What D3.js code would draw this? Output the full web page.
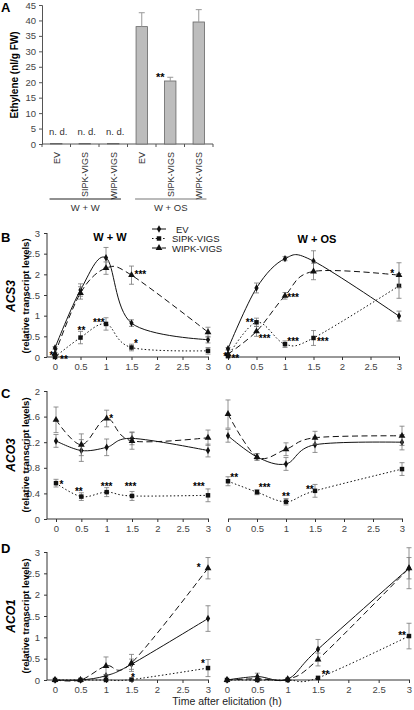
<!DOCTYPE html>
<html><head><meta charset="utf-8">
<script src="https://cdn.jsdelivr.net/npm/d3@7"></script>
<style>body{margin:0;background:#fff} svg{display:block;font-family:"Liberation Sans",Arial,sans-serif}</style>
</head><body><svg id="c" width="414" height="710"></svg>
<script>
// ---------- DATA ----------
const ethyleneCats = ["EV","SIPK-VIGS","WIPK-VIGS","EV","SIPK-VIGS","WIPK-VIGS"];
const ethyleneVals = [0.15,0.15,0.15,38,20.4,39.5];
const ethyleneErr  = [0,0,0,4.5,1.2,4];
const ethyleneNotes = ["n. d.","n. d.","n. d.","","**",""];
const ethyleneTicks = [0,5,10,15,20,25,30,35,40,45];
const treatGroups = ["W + W","W + OS"];
const seriesNames = ["EV","SIPK-VIGS","WIPK-VIGS"];
const times = [0,0.5,1,1.5,3];
const timeTicks = [0,0.5,1,1.5,2,2.5,3];

// ACS3
const acs3_WW_EV   = [0.22,1.62,2.40,0.82,0.42];
const acs3_WW_EVe  = [0.03,0.15,0.25,0.08,0.08];
const acs3_WW_SIPK = [0.00,0.47,0.80,0.23,0.15];
const acs3_WW_SIPKe= [0.02,0.15,0.15,0.08,0.08];
const acs3_WW_WIPK = [0.08,1.55,2.15,1.98,0.60];
const acs3_WW_WIPKe= [0.03,0.15,0.15,0.22,0.12];
const acs3_OS_EV   = [0.20,1.67,2.38,2.32,0.99];
const acs3_OS_EVe  = [0.03,0.12,0.05,0.25,0.12];
const acs3_OS_SIPK = [0.02,0.84,0.31,0.46,1.72];
const acs3_OS_SIPKe= [0.02,0.10,0.08,0.18,0.30];
const acs3_OS_WIPK = [0.07,0.62,1.48,2.07,1.98];
const acs3_OS_WIPKe= [0.03,0.12,0.08,0.20,0.30];
const acs3Ticks = [0,0.5,1,1.5,2,2.5,3];
// [time, value, text, anchor]
const acs3_WW_stars = [[-0.07,0.08,"*","middle"],[0.1,-0.02,"**","start"],[0.52,0.68,"**","middle"],[0.86,0.86,"***","middle"],[1.55,0.36,"*","start"],[1.56,2.04,"***","start"]];
const acs3_OS_stars = [[-0.05,0.06,"*","middle"],[0.06,0.0,"**","start"],[0.38,0.86,"**","middle"],[0.54,0.48,"***","start"],[1.04,1.47,"***","start"],[1.04,0.41,"***","start"],[1.56,0.41,"***","start"],[2.88,2.05,"*","middle"]];

// ACO3
const aco3_WW_EV   = [1.22,1.07,1.12,1.26,1.07];
const aco3_WW_EVe  = [0.10,0.17,0.13,0.10,0.10];
const aco3_WW_SIPK = [0.56,0.35,0.42,0.36,0.37];
const aco3_WW_SIPKe= [0.06,0.06,0.07,0.07,0.10];
const aco3_WW_WIPK = [1.55,1.16,1.57,1.22,1.27];
const aco3_WW_WIPKe= [0.20,0.17,0.13,0.13,0.12];
const aco3_OS_EV   = [1.30,0.97,0.86,1.16,1.20];
const aco3_OS_EVe  = [0.10,0.05,0.10,0.12,0.12];
const aco3_OS_SIPK = [0.59,0.42,0.27,0.44,0.78];
const aco3_OS_SIPKe= [0.07,0.04,0.05,0.10,0.10];
const aco3_OS_WIPK = [1.64,0.97,1.09,1.27,1.30];
const aco3_OS_WIPKe= [0.22,0.05,0.10,0.10,0.15];
const aco3Ticks = [0,0.4,0.8,1.2,1.6,2];
const aco3_WW_stars = [[0.07,0.56,"*","start"],[0.45,0.46,"**","middle"],[1.0,0.53,"***","middle"],[1.47,0.53,"***","middle"],[2.82,0.53,"***","middle"],[1.05,1.6,"*","start"]];
const aco3_OS_stars = [[0.04,0.67,"**","start"],[0.53,0.52,"***","start"],[1.0,0.38,"**","middle"],[1.41,0.48,"**","middle"]];

// ACO1
const aco1_WW_EV   = [0,0,0.10,0.37,1.44];
const aco1_WW_EVe  = [0.01,0.01,0.03,0.12,0.30];
const aco1_WW_SIPK = [0,0,0,0.01,0.28];
const aco1_WW_SIPKe= [0.01,0.01,0.01,0.01,0.20];
const aco1_WW_WIPK = [0,0,0.33,0.40,2.62];
const aco1_WW_WIPKe= [0.01,0.01,0.21,0.20,0.25];
const aco1_OS_EV   = [0,0.08,0.02,0.72,2.62];
const aco1_OS_EVe  = [0.01,0.08,0.02,0.23,0.48];
const aco1_OS_SIPK = [0,0,0,0.05,1.03];
const aco1_OS_SIPKe= [0.01,0.01,0.01,0.01,0.30];
const aco1_OS_WIPK = [0,0.03,0.02,0.48,2.62];
const aco1_OS_WIPKe= [0.01,0.03,0.02,0.15,0.25];
const aco1Ticks = [0,0.5,1,1.5,2,2.5,3];
const aco1_WW_stars = [[2.82,2.68,"*","middle"],[2.9,0.42,"*","middle"],[1.53,0.1,"*","middle"]];
const aco1_OS_stars = [[1.56,0.16,"**","start"],[2.95,1.08,"**","end"]];

// ---------- DRAW ----------
const svg = d3.select("#c");
const styles = {
  "EV":        {dash:null,   marker:"diamond"},
  "SIPK-VIGS": {dash:"1.5,2.2", marker:"square"},
  "WIPK-VIGS": {dash:"6,3.5", marker:"triangle"}
};
const sym = {
  diamond: d3.symbol().type(d3.symbolDiamond).size(16),
  square: d3.symbol().type(d3.symbolSquare).size(20),
  triangle: d3.symbol().type(d3.symbolTriangle).size(20)
};

// Panel letters
function letter(t,x,y){ svg.append("text").attr("x",x).attr("y",y).attr("font-size",13).attr("font-weight","bold").attr("fill","#000").text(t); }
letter("A",1,12); letter("B",1,242); letter("C",1,398); letter("D",1,553);

// ----- Panel A -----
const gA = svg.append("g");
const xA = d3.scaleBand().domain(d3.range(ethyleneCats.length)).range([42,213]).paddingInner(0.6).paddingOuter(0.3);
const yA = d3.scaleLinear().domain([0,45]).range([144,5]);
const axA = gA.append("g").attr("transform","translate(42,0)")
  .call(d3.axisLeft(yA).tickValues(ethyleneTicks).tickSize(3).tickPadding(3));
axA.selectAll("text").attr("font-size",9.5).attr("fill","#444").attr("font-family","Liberation Sans, Arial");
axA.selectAll("line,path").attr("stroke","#555");
gA.append("line").attr("x1",42).attr("x2",213).attr("y1",yA(0)).attr("y2",yA(0)).attr("stroke","#555");
d3.range(ethyleneCats.length+1).forEach(i=>{
  const bx = xA.range()[0] + i*xA.step();
  gA.append("line").attr("x1",bx).attr("x2",bx).attr("y1",yA(0)).attr("y2",yA(0)+3).attr("stroke","#555");
});
gA.selectAll("rect.bar").data(ethyleneVals).join("rect")
  .attr("x",(d,i)=>xA(i)).attr("width",xA.bandwidth())
  .attr("y",d=>yA(d)).attr("height",d=>yA(0)-yA(d))
  .attr("fill","#bdbdbd").attr("stroke","#666").attr("stroke-width",0.8);
ethyleneErr.forEach((e,i)=>{
  if(!e) return;
  const cx = xA(i)+xA.bandwidth()/2;
  gA.append("line").attr("x1",cx).attr("x2",cx).attr("y1",yA(ethyleneVals[i])).attr("y2",yA(ethyleneVals[i]+e)).attr("stroke","#999");
  gA.append("line").attr("x1",cx-3).attr("x2",cx+3).attr("y1",yA(ethyleneVals[i]+e)).attr("y2",yA(ethyleneVals[i]+e)).attr("stroke","#999");
});
ethyleneNotes.forEach((t,i)=>{
  if(!t) return;
  const cx = xA(i)+xA.bandwidth()/2;
  if(t==="**"){
    gA.append("text").attr("x",cx-10).attr("y",yA(ethyleneVals[i]+1.6)+5).attr("text-anchor","middle").attr("font-size",11).attr("font-weight","bold").attr("fill","#000").text(t);
  } else {
    gA.append("text").attr("x",cx+2).attr("y",yA(4)+3).attr("text-anchor","middle").attr("font-size",9.5).attr("fill","#333").text(t);
  }
});
ethyleneCats.forEach((c,i)=>{
  const cx = xA(i)+xA.bandwidth()/2;
  gA.append("text").attr("transform",`translate(${cx+3.5},152) rotate(-90)`).attr("text-anchor","end")
    .attr("font-size",9).attr("fill","#333").text(c);
});
treatGroups.forEach((g,k)=>{
  const x0 = xA(k*3)-1, x1 = xA(k*3+2)+xA.bandwidth()+2;
  gA.append("line").attr("x1",x0).attr("x2",x1).attr("y1",199).attr("y2",199).attr("stroke",k?"#777":"#222").attr("stroke-width",1.2);
  gA.append("text").attr("x",(x0+x1)/2).attr("y",211).attr("text-anchor","middle").attr("font-size",9.5).attr("fill","#333").text(g);
});
svg.append("text").attr("transform","translate(18,75) rotate(-90)").attr("text-anchor","middle")
  .attr("font-size",10).attr("font-weight","bold").text("Ethylene (nl/g FW)");

// ----- Line panels -----
const curve = d3.curveCardinal.tension(0);
function linePanel(o){
  const g = svg.append("g");
  const x = d3.scaleLinear().domain([0,3]).range(o.xr);
  const y = d3.scaleLinear().domain([0,d3.max(o.ticks)]).range(o.yr);
  if(o.yaxis){
    const ay = g.append("g").attr("transform",`translate(${o.yaxisX},0)`)
      .call(d3.axisLeft(y).tickValues(o.ticks).tickSize(3).tickPadding(4).tickFormat(d3.format("~g")));
    ay.select(".domain").attr("d",`M-0,${y(d3.max(o.ticks))}V${y(0)}`);
    ay.selectAll("text").attr("font-size",9.5).attr("fill","#444").attr("font-family","Liberation Sans, Arial");
    ay.selectAll("line,path").attr("stroke","#333");
  }
  const ax = g.append("g").attr("transform",`translate(0,${y(0)})`)
    .call(d3.axisBottom(x).tickValues(timeTicks).tickSize(3).tickPadding(3).tickFormat(d3.format("~g")));
  ax.select(".domain").attr("d",`M${o.yaxis?o.yaxisX:x(0)},0H${x(3)+1}`);
  ax.selectAll("text").attr("font-size",9.5).attr("fill","#444").attr("font-family","Liberation Sans, Arial");
  ax.selectAll("line,path").attr("stroke","#333");

  const line = d3.line().x((d,i)=>x(times[i])).y(d=>y(d)).curve(curve);
  o.series.forEach(s=>{
    const st = styles[s.name];
    s.vals.forEach((v,i)=>{
      const e = s.err[i]; if(e<0.015) return;
      const cx = x(times[i]);
      g.append("line").attr("x1",cx).attr("x2",cx).attr("y1",y(v-e)).attr("y2",y(v+e)).attr("stroke","#777").attr("stroke-width",0.8);
      [v-e,v+e].forEach(b=>g.append("line").attr("x1",cx-2.5).attr("x2",cx+2.5).attr("y1",y(b)).attr("y2",y(b)).attr("stroke","#777").attr("stroke-width",0.8));
    });
    g.append("path").attr("d",line(s.vals)).attr("fill","none").attr("stroke","#111").attr("stroke-width",1)
      .attr("stroke-dasharray",st.dash);
    g.selectAll(null).data(s.vals).join("path")
      .attr("transform",(d,i)=>`translate(${x(times[i])},${y(d)})`)
      .attr("d",sym[st.marker]()).attr("fill","#111");
  });
  o.stars.forEach(([t,v,txt,anc])=>{
    g.append("text").attr("x",x(t)).attr("y",y(v)+5).attr("text-anchor",anc).attr("font-size",10).attr("font-weight","bold").attr("fill","#000").text(txt);
  });
  return {x,y,g};
}
function mk(name,vals,err){ return {name,vals,err}; }

// B
linePanel({xr:[55,208],yr:[357,233],yaxis:true,yaxisX:47,ticks:acs3Ticks,
  series:[mk("EV",acs3_WW_EV,acs3_WW_EVe),mk("SIPK-VIGS",acs3_WW_SIPK,acs3_WW_SIPKe),mk("WIPK-VIGS",acs3_WW_WIPK,acs3_WW_WIPKe)],stars:acs3_WW_stars});
linePanel({xr:[228,399],yr:[357,233],yaxis:false,ticks:acs3Ticks,
  series:[mk("EV",acs3_OS_EV,acs3_OS_EVe),mk("SIPK-VIGS",acs3_OS_SIPK,acs3_OS_SIPKe),mk("WIPK-VIGS",acs3_OS_WIPK,acs3_OS_WIPKe)],stars:acs3_OS_stars});
svg.append("text").attr("x",110).attr("y",241).attr("text-anchor","middle").attr("font-size",11).attr("font-weight","bold").text(treatGroups[0]);
svg.append("text").attr("x",317).attr("y",243).attr("text-anchor","middle").attr("font-size",11).attr("font-weight","bold").text(treatGroups[1]);
seriesNames.forEach((s,i)=>{
  const ly = 229 + i*9.5;
  svg.append("line").attr("x1",152).attr("x2",166).attr("y1",ly).attr("y2",ly).attr("stroke","#111").attr("stroke-dasharray",styles[s].dash);
  svg.append("path").attr("transform",`translate(159,${ly})`).attr("d",sym[styles[s].marker]()).attr("fill","#111");
  svg.append("text").attr("x",i?172:176).attr("y",ly+3.5).attr("font-size",9.5).attr("fill","#222").text(s);
});

// C
linePanel({xr:[56,208],yr:[519,391],yaxis:true,yaxisX:47,ticks:aco3Ticks,
  series:[mk("EV",aco3_WW_EV,aco3_WW_EVe),mk("SIPK-VIGS",aco3_WW_SIPK,aco3_WW_SIPKe),mk("WIPK-VIGS",aco3_WW_WIPK,aco3_WW_WIPKe)],stars:aco3_WW_stars});
linePanel({xr:[228,402],yr:[519,391],yaxis:false,ticks:aco3Ticks,
  series:[mk("EV",aco3_OS_EV,aco3_OS_EVe),mk("SIPK-VIGS",aco3_OS_SIPK,aco3_OS_SIPKe),mk("WIPK-VIGS",aco3_OS_WIPK,aco3_OS_WIPKe)],stars:aco3_OS_stars});

// D
linePanel({xr:[55,208],yr:[680,552],yaxis:true,yaxisX:47,ticks:aco1Ticks,
  series:[mk("EV",aco1_WW_EV,aco1_WW_EVe),mk("SIPK-VIGS",aco1_WW_SIPK,aco1_WW_SIPKe),mk("WIPK-VIGS",aco1_WW_WIPK,aco1_WW_WIPKe)],stars:aco1_WW_stars});
linePanel({xr:[227,409],yr:[680,552],yaxis:false,ticks:aco1Ticks,
  series:[mk("EV",aco1_OS_EV,aco1_OS_EVe),mk("SIPK-VIGS",aco1_OS_SIPK,aco1_OS_SIPKe),mk("WIPK-VIGS",aco1_OS_WIPK,aco1_OS_WIPKe)],stars:aco1_OS_stars});

// y labels
[["ACS3",296],["ACO3",455],["ACO1",616]].forEach(([gene,cy])=>{
  svg.append("text").attr("transform",`translate(15,${cy}) rotate(-90)`).attr("text-anchor","middle")
    .attr("font-size",12).attr("font-weight","bold").attr("font-style","italic").text(gene);
  svg.append("text").attr("transform",`translate(29,${cy}) rotate(-90)`).attr("text-anchor","middle")
    .attr("font-size",9.5).attr("font-weight","bold").text("(relative transcript levels)");
});
svg.append("text").attr("x",227).attr("y",705).attr("text-anchor","middle").attr("font-size",10.5).attr("fill","#222").text("Time after elicitation (h)");
</script></body></html>
